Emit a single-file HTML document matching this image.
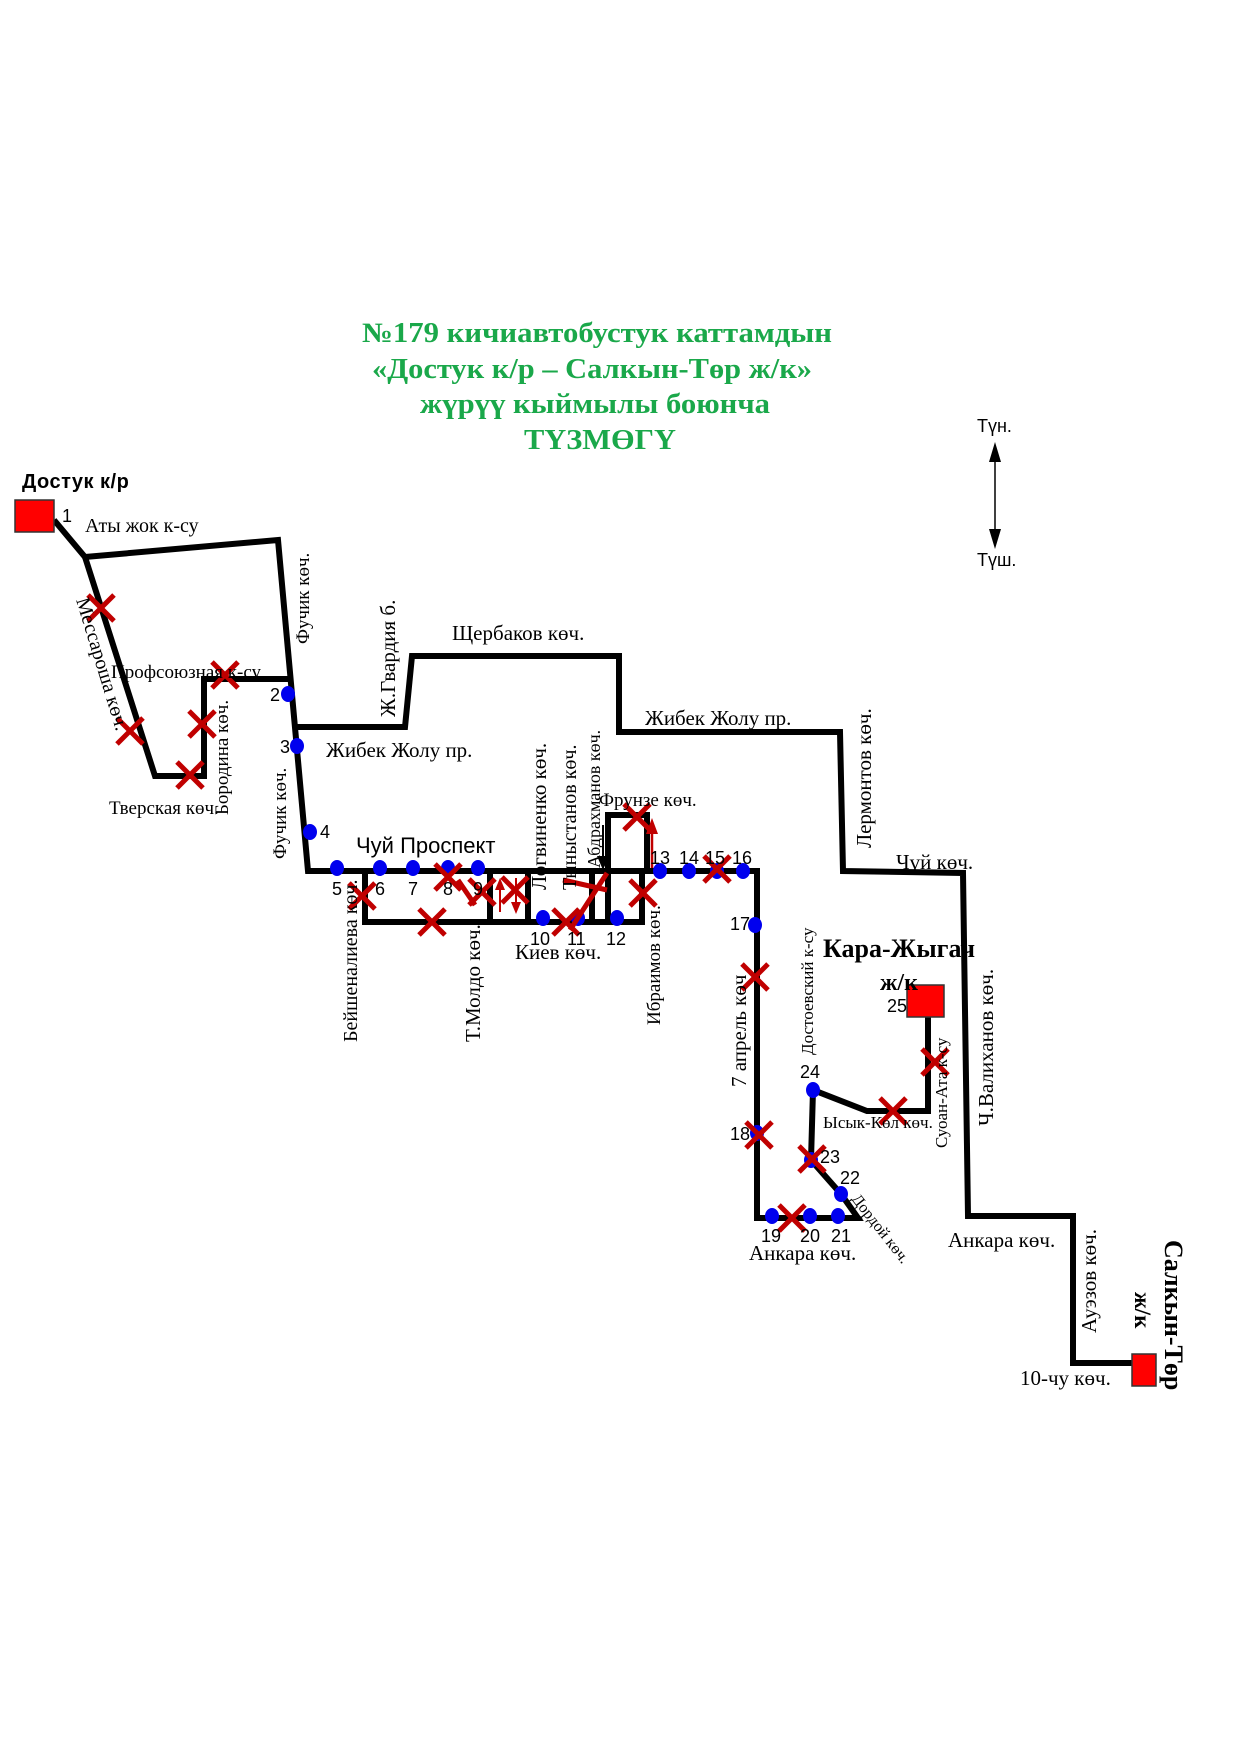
<!DOCTYPE html>
<html><head><meta charset="utf-8"><style>
html,body{margin:0;padding:0;background:#fff}
svg{display:block}
text{font-family:"Liberation Serif",serif;fill:#000}
.s,.s text{font-family:"Liberation Sans",sans-serif}
.t{font-family:"Liberation Serif",serif;font-weight:bold;fill:#1aa84a}
</style></head><body>
<svg width="1241" height="1754" viewBox="0 0 1241 1754" xmlns="http://www.w3.org/2000/svg" font-size="21">
<defs>
<g id="x"><line x1="-13" y1="-13" x2="13" y2="13" stroke="#c00000" stroke-width="5"/><line x1="13" y1="-13" x2="-13" y2="13" stroke="#c00000" stroke-width="5"/></g>
</defs>
<g font-size="28">
<text class="t" x="597" y="342" text-anchor="middle" textLength="470" lengthAdjust="spacingAndGlyphs">№179 кичиавтобустук каттамдын</text>
<text class="t" x="592" y="378" text-anchor="middle" textLength="440" lengthAdjust="spacingAndGlyphs">«Достук к/р – Салкын-Төр ж/к»</text>
<text class="t" x="595" y="413" text-anchor="middle" textLength="350" lengthAdjust="spacingAndGlyphs">жүрүү кыймылы боюнча</text>
<text class="t" x="600" y="449" text-anchor="middle" textLength="152" lengthAdjust="spacingAndGlyphs">ТҮЗМӨГҮ</text>
</g>
<text class="s" x="977" y="432" font-size="18">Түн.</text>
<text class="s" x="977" y="566" font-size="18">Түш.</text>
<line x1="995" y1="455" x2="995" y2="535" stroke="#000" stroke-width="1.5"/>
<polygon points="995,442 989,462 1001,462" fill="#000"/>
<polygon points="995,549 989,529 1001,529" fill="#000"/>

<g fill="none" stroke="#000" stroke-width="6" stroke-linejoin="miter">
<polyline points="54,520 85,557 278,540 308,871 757,871 757,1218 858,1218 841,1194 811,1160 813,1090 867,1111 928,1111 928,1017"/>
<polyline points="85,557 155,776 204,776 204,679 293,679"/>
<polyline points="296,727 405,727 412,656 619,656 619,732 840,732 843,871 963,873 968,1216 1073,1216 1073,1363 1132,1363"/>
<polyline points="365,871 365,922 642,922 642,871"/>
<line x1="490" y1="871" x2="490" y2="922"/>
<line x1="528" y1="871" x2="528" y2="922"/>
<line x1="592" y1="871" x2="592" y2="922"/>
<polyline points="608,922 608,815 647,815 647,871"/>
</g>
<line x1="603" y1="825" x2="603" y2="858" stroke="#000" stroke-width="2"/>
<polygon points="603,870 597,856 609,856" fill="#000"/>
<line x1="652" y1="868" x2="652" y2="830" stroke="#c00000" stroke-width="2.5"/>
<polygon points="652,818 646,834 658,834" fill="#c00000"/>
<line x1="500" y1="912" x2="500" y2="885" stroke="#c00000" stroke-width="2"/>
<polygon points="500,878 495,890 505,890" fill="#c00000"/>
<line x1="516" y1="878" x2="516" y2="906" stroke="#c00000" stroke-width="2"/>
<polygon points="516,914 511,902 521,902" fill="#c00000"/>

<rect x="15" y="500" width="39" height="32" fill="#f00" stroke="#333" stroke-width="1.5"/>
<rect x="907" y="985" width="37" height="32" fill="#f00" stroke="#333" stroke-width="1.5"/>
<rect x="1132" y="1354" width="24" height="32" fill="#f00" stroke="#333" stroke-width="1.5"/>

<g fill="#0000ee">
<ellipse cx="288" cy="694" rx="7" ry="8"/><ellipse cx="297" cy="746" rx="7" ry="8"/><ellipse cx="310" cy="832" rx="7" ry="8"/>
<ellipse cx="337" cy="868" rx="7" ry="8"/><ellipse cx="380" cy="868" rx="7" ry="8"/><ellipse cx="413" cy="868" rx="7" ry="8"/><ellipse cx="448" cy="868" rx="7" ry="8"/><ellipse cx="478" cy="868" rx="7" ry="8"/>
<ellipse cx="543" cy="918" rx="7" ry="8"/><ellipse cx="578" cy="918" rx="7" ry="8"/><ellipse cx="617" cy="918" rx="7" ry="8"/>
<ellipse cx="660" cy="871" rx="7" ry="8"/><ellipse cx="689" cy="871" rx="7" ry="8"/><ellipse cx="717" cy="871" rx="7" ry="8"/><ellipse cx="743" cy="871" rx="7" ry="8"/>
<ellipse cx="755" cy="925" rx="7" ry="8"/><ellipse cx="757" cy="1133" rx="7" ry="8"/>
<ellipse cx="772" cy="1216" rx="7" ry="8"/><ellipse cx="810" cy="1216" rx="7" ry="8"/><ellipse cx="838" cy="1216" rx="7" ry="8"/>
<ellipse cx="841" cy="1194" rx="7" ry="8"/><ellipse cx="811" cy="1160" rx="7" ry="8"/><ellipse cx="813" cy="1090" rx="7" ry="8"/>
</g>

<use href="#x" x="101" y="608"/><use href="#x" x="130" y="731"/><use href="#x" x="190" y="775"/><use href="#x" x="202" y="724"/><use href="#x" x="225" y="675"/>
<use href="#x" x="362" y="896"/><use href="#x" x="432" y="922"/><use href="#x" x="448" y="877"/><use href="#x" x="482" y="892"/><use href="#x" x="515" y="890"/>
<use href="#x" x="566" y="922"/><use href="#x" x="643" y="893"/><use href="#x" x="637" y="817"/><use href="#x" x="717" y="869"/>
<use href="#x" x="755" y="977"/><use href="#x" x="759" y="1135"/><use href="#x" x="792" y="1218"/><use href="#x" x="812" y="1159"/><use href="#x" x="893" y="1111"/><use href="#x" x="935" y="1062"/>
<line x1="570" y1="930" x2="607" y2="873" stroke="#c00000" stroke-width="5"/>
<line x1="563" y1="880" x2="607" y2="890" stroke="#c00000" stroke-width="5"/>
<line x1="458" y1="880" x2="475" y2="905" stroke="#c00000" stroke-width="5"/>

<text class="s" x="22" y="488" font-size="20" font-weight="bold" letter-spacing="0.5">Достук к/р</text>
<g class="s" font-size="18">
<text x="62" y="522">1</text>
<text x="270" y="701">2</text><text x="280" y="753">3</text><text x="320" y="838">4</text>
<text x="332" y="895">5</text><text x="375" y="895">6</text><text x="408" y="895">7</text><text x="443" y="895">8</text><text x="473" y="895">9</text>
<text x="530" y="945">10</text><text x="567" y="945">11</text><text x="606" y="945">12</text>
<text x="650" y="864">13</text><text x="679" y="864">14</text><text x="705" y="864">15</text><text x="732" y="864">16</text>
<text x="730" y="930">17</text><text x="730" y="1140">18</text>
<text x="761" y="1242">19</text><text x="800" y="1242">20</text><text x="831" y="1242">21</text>
<text x="840" y="1184">22</text><text x="820" y="1163">23</text><text x="800" y="1078">24</text><text x="887" y="1012">25</text>
</g>
<text class="s" x="356" y="853" font-size="22">Чуй Проспект</text>
<text x="85" y="532" font-size="20">Аты жок к-су</text>
<text transform="translate(76,600) rotate(73)" font-size="20">Мессароша көч.</text>
<text x="111" y="678" font-size="19">Профсоюзная к-су</text>
<text transform="translate(228,815) rotate(-90)" font-size="19">Бородина көч.</text>
<text x="109" y="814" font-size="19">Тверская көч.</text>
<text transform="translate(309,644) rotate(-90)" font-size="19">Фучик көч.</text>
<text transform="translate(395,717) rotate(-90)">Ж.Гвардия б.</text>
<text x="452" y="640">Щербаков көч.</text>
<text x="645" y="725">Жибек Жолу пр.</text>
<text x="326" y="757">Жибек Жолу пр.</text>
<text transform="translate(871,848) rotate(-90)">Лермонтов көч.</text>
<text transform="translate(286,859) rotate(-90)" font-size="19">Фучик көч.</text>
<text transform="translate(357,1042) rotate(-90)" font-size="20">Бейшеналиева көч.</text>
<text transform="translate(480,1042) rotate(-90)">Т.Молдо көч.</text>
<text transform="translate(546,890) rotate(-90)">Логвиненко көч.</text>
<text transform="translate(576,890) rotate(-90)" font-size="20">Тыныстанов көч.</text>
<text transform="translate(600,868) rotate(-90)" font-size="18">Абдрахманов көч.</text>
<text x="599" y="806" font-size="19">Фрунзе көч.</text>
<text x="515" y="959">Киев көч.</text>
<text transform="translate(660,1025) rotate(-90)" font-size="19">Ибраимов көч.</text>
<text transform="translate(746,1087) rotate(-90)">7 апрель көч</text>
<text transform="translate(813,1055) rotate(-90)" font-size="17">Достоевский к-су</text>
<text x="823" y="957" font-size="26" font-weight="bold">Кара-Жыгач</text>
<text x="880" y="990" font-size="24" font-weight="bold">ж/к</text>
<text x="823" y="1128" font-size="17">Ысык-Көл көч.</text>
<text transform="translate(947,1148) rotate(-90)" font-size="17">Суоан-Ата к-су</text>
<text transform="translate(993,1126) rotate(-90)">Ч.Валиханов көч.</text>
<text x="896" y="869">Чүй көч.</text>
<text x="948" y="1247">Анкара көч.</text>
<text x="749" y="1260">Анкара көч.</text>
<text transform="translate(851,1199) rotate(52)" font-size="16">Дордой көч.</text>
<text transform="translate(1096,1333) rotate(-90)">Ауэзов көч.</text>
<text x="1020" y="1385">10-чу көч.</text>
<text transform="translate(1165,1240) rotate(90)" font-size="26" font-weight="bold">Салкын-Төр</text>
<text transform="translate(1135,1292) rotate(90)" font-size="23" font-weight="bold">ж/к</text>
</svg>
</body></html>
